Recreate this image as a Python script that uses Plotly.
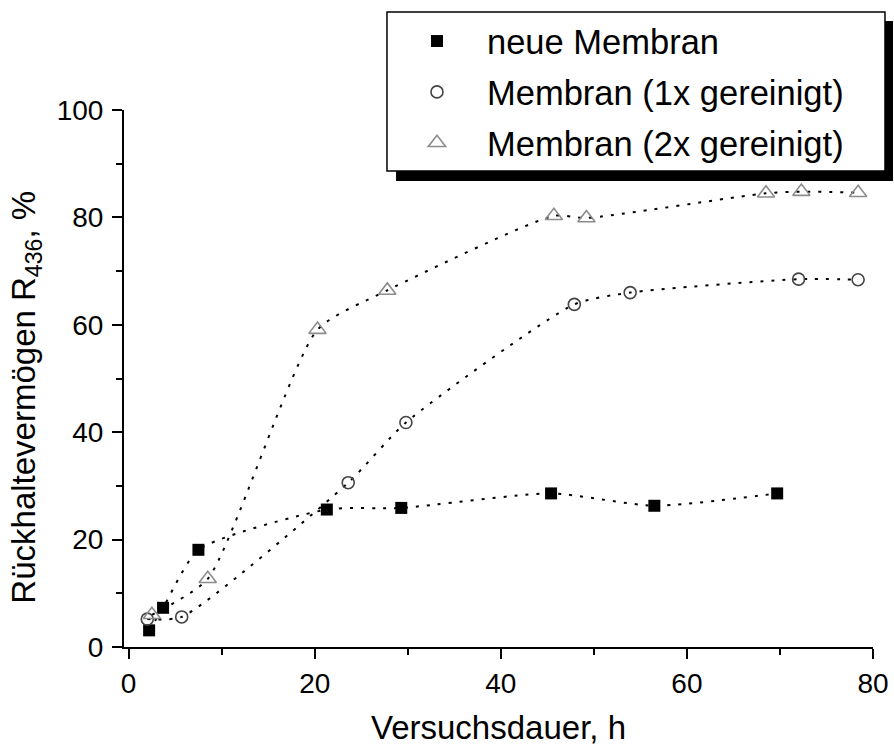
import plotly.graph_objects as go

# Rückhaltevermögen über der Versuchsdauer für drei Membranzustände
x_neu = [2.2, 3.7, 7.5, 21.3, 29.3, 45.4, 56.5, 69.7]
y_neu = [3.1, 7.3, 18.1, 25.6, 25.9, 28.6, 26.3, 28.6]

x_1x = [2.0, 5.7, 23.6, 29.8, 47.9, 53.9, 72.0, 78.4]
y_1x = [5.2, 5.6, 30.6, 41.8, 63.8, 66.0, 68.5, 68.4]

x_2x = [2.5, 8.5, 20.3, 27.8, 45.7, 49.2, 68.5, 72.3, 78.4]
y_2x = [6.0, 12.7, 59.1, 66.4, 80.3, 79.9, 84.5, 84.8, 84.6]

names = ["neue Membran", "Membran (1x gereinigt)", "Membran (2x gereinigt)"]

x_ticks = [0, 20, 40, 60, 80]
y_ticks = [0, 20, 40, 60, 80, 100]

FONT = "Liberation Sans, Arial, sans-serif"
line_style = dict(color="black", width=2, dash="3px,8px", shape="spline", smoothing=0.6)

markers = [
    dict(symbol="square", size=12, color="black", line=dict(width=0)),
    dict(symbol="circle-open", size=12, color="#444444", line=dict(width=1.6)),
    dict(symbol="triangle-up-open", size=15, color="#8c8c8c", line=dict(width=1.6)),
]
series = [(x_neu, y_neu), (x_1x, y_1x), (x_2x, y_2x)]

fig = go.Figure()
# gepunktete Verbindungslinien (ohne Legendeneintrag)
for (xs, ys), name in zip(series, names):
    fig.add_trace(go.Scatter(x=xs, y=ys, mode="lines", line=line_style,
                             showlegend=False, hoverinfo="skip", name=name))
# Messpunkte mit Legende
for (xs, ys), name, mk in zip(series, names, markers):
    fig.add_trace(go.Scatter(x=xs, y=ys, mode="markers", marker=mk, name=name,
                             legendgroup=name))

axis_common = dict(
    showline=True, linecolor="black", linewidth=2, mirror=False,
    ticks="outside", ticklen=10, tickwidth=2, tickcolor="black",
    showgrid=False, zeroline=False, automargin=False,
    tickfont=dict(family=FONT, size=28, color="black"),
)

fig.update_xaxes(
    range=[-0.5, 80], tickvals=x_ticks, ticktext=[str(v) for v in x_ticks],
    minor=dict(tickvals=[10, 30, 50, 70], ticklen=6, tickwidth=2, tickcolor="black", ticks="outside"),
    title=dict(text="Versuchsdauer, h", font=dict(family=FONT, size=33, color="black"), standoff=20),
    ticklabelstandoff=0,
    **axis_common,
)
fig.update_yaxes(
    range=[0, 100], tickvals=y_ticks, ticktext=[str(v) for v in y_ticks],
    minor=dict(tickvals=[10, 30, 50, 70, 90], ticklen=6, tickwidth=2, tickcolor="black", ticks="outside"),
    ticklabelstandoff=3,
    **axis_common,
)

# Legendenrahmen mit Schlagschatten
fig.add_shape(type="rect", xref="paper", yref="paper",
              x0=0.3632, x1=1.0267, y0=0.8679, y1=1.1656,
              fillcolor="black", line=dict(width=0), layer="above")
fig.add_shape(type="rect", xref="paper", yref="paper",
              x0=0.3511, x1=1.0160, y0=0.8865, y1=1.1823,
              fillcolor="white", line=dict(color="black", width=1.5), layer="above")

# y-Achsentitel
fig.add_annotation(
    text="Rückhaltevermögen R<sub>436</sub>, %", textangle=-90,
    xref="paper", yref="paper", x=-0.131, y=0.466,
    xanchor="center", yanchor="middle", showarrow=False,
    font=dict(family=FONT, size=33, color="black"),
)

fig.update_layout(
    width=894, height=746,
    margin=dict(l=124, r=21, t=110, b=98.5, pad=0, autoexpand=False),
    paper_bgcolor="white", plot_bgcolor="white",
    font=dict(family=FONT, color="black"),
    legend=dict(
        x=0.3511, y=1.1823, xanchor="left", yanchor="top",
        bgcolor="rgba(0,0,0,0)", borderwidth=0,
        font=dict(family=FONT, size=34.5, color="black"),
        itemwidth=90, tracegroupgap=3, traceorder="grouped",
    ),
)

fig.write_html("out.html")
